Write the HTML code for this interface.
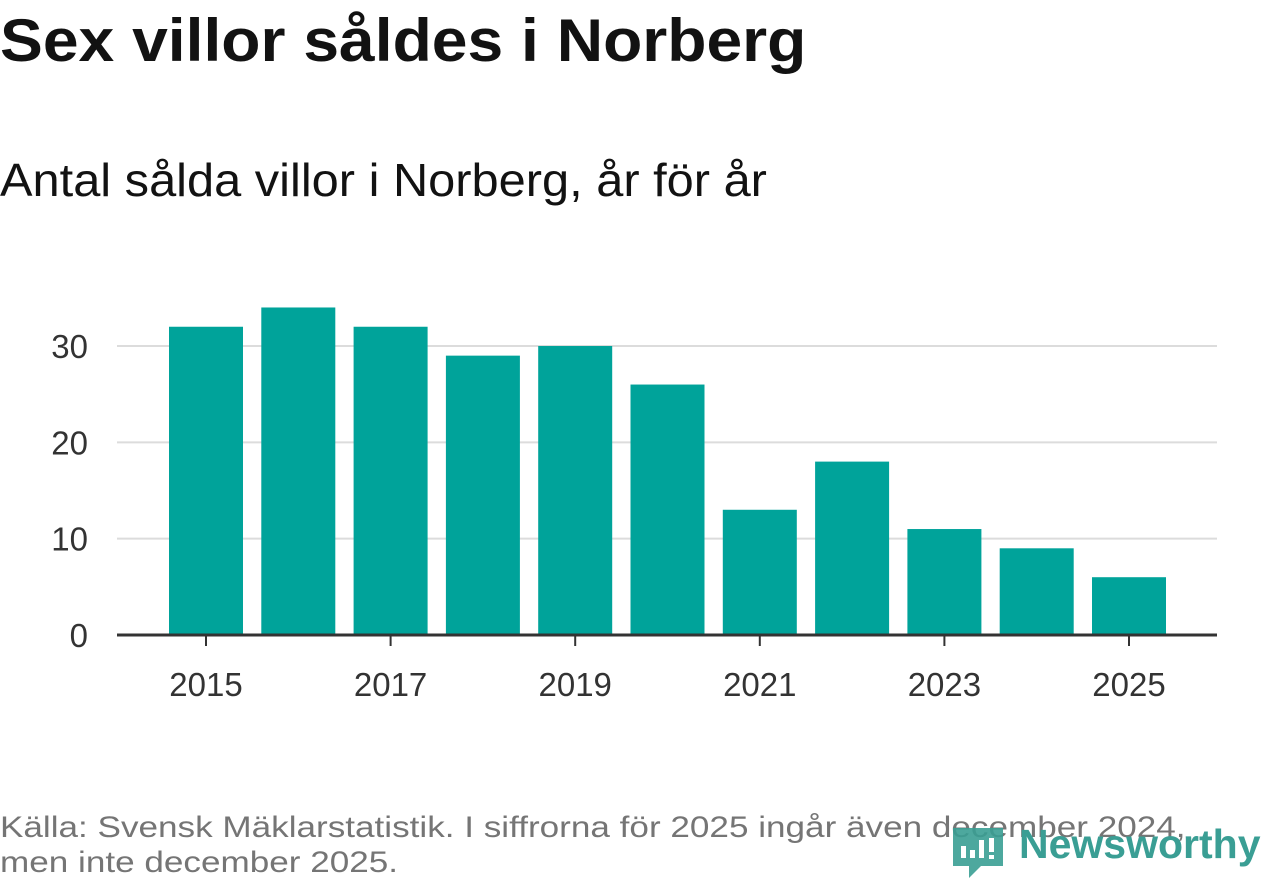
<!DOCTYPE html>
<html><head><meta charset="utf-8"><style>
body{margin:0;width:1262px;height:879px;background:#fff;overflow:hidden;font-family:"Liberation Sans","DejaVu Sans",sans-serif;position:relative}
#title{position:absolute;left:0;top:6px;font-size:60px;font-weight:bold;color:#121212;margin:0;white-space:nowrap;transform:scaleX(1.07);transform-origin:0 0}
#sub{position:absolute;left:0;top:153px;font-size:46px;color:#121212;white-space:nowrap;transform:scaleX(1.06);transform-origin:0 0}
#foot{position:absolute;left:0;top:810px;font-size:30px;line-height:35px;color:#757575;white-space:nowrap;transform:scaleX(1.17);transform-origin:0 0}
</style></head><body>
<h1 id="title">Sex villor såldes i Norberg</h1>
<div id="sub">Antal sålda villor i Norberg, år för år</div>
<svg id="chart" width="1262" height="879" style="position:absolute;left:0;top:0"></svg>
<div id="foot">Källa: Svensk Mäklarstatistik. I siffrorna för 2025 ingår även december 2024,<br>men inte december 2025.</div>
<svg width="320" height="60" style="position:absolute;left:945px;top:818px">
<path d="M8 10 H58 V48 L36 48 L24 60 L24 48 H8 Z" fill="#3a9e94" opacity="0.9"/>
<rect x="16" y="28" width="5" height="12" fill="#fff"/><rect x="25" y="32" width="5" height="8" fill="#fff"/><rect x="34" y="22" width="5" height="18" fill="#fff"/><rect x="44" y="20" width="5" height="14" fill="#fff"/><rect x="44" y="37" width="5" height="4" fill="#fff"/>
<text x="74" y="40" font-size="41" font-weight="bold" fill="#3a9e94" font-family="Liberation Sans, sans-serif">Newsworthy</text>
</svg>
<script>
const years=[2015,2016,2017,2018,2019,2020,2021,2022,2023,2024,2025];
const values=[32,34,32,29,30,26,13,18,11,9,6];
const yTicks=[0,10,20,30];
const xTickYears=[2015,2017,2019,2021,2023,2025];
const svg=document.getElementById('chart');
const NS='http://www.w3.org/2000/svg';
const y=v=>635-v*9.633;
const x=yr=>206+(yr-2015)*92.3;
function mk(t,a){const e=document.createElementNS(NS,t);for(const k in a)e.setAttribute(k,a[k]);svg.appendChild(e);return e;}
yTicks.forEach(v=>{
 if(v>0){const g=mk('line',{x1:117,x2:1217,y1:y(v),y2:y(v),stroke:'#dcdcdc','stroke-width':2});
 
 }
 const t=mk('text',{x:88,y:y(v)+12,'text-anchor':'end','font-size':33,fill:'#333'});t.textContent=v;
 
 
});
years.forEach((yr,i)=>{
 const b=mk('rect',{x:x(yr)-37,y:y(values[i]),width:74,height:635-y(values[i]),fill:'#00a39a'});
 
 
});
const ax=mk('line',{x1:117,x2:1217,y1:635,y2:635,stroke:'#333','stroke-width':3});


xTickYears.forEach(yr=>{
 const tk=mk('line',{x1:x(yr),x2:x(yr),y1:635,y2:646,stroke:'#333','stroke-width':2});
 
 
 const t=mk('text',{x:x(yr),y:696,'text-anchor':'middle','font-size':33,fill:'#333'});t.textContent=yr;
 
 
});
</script>
</body></html>
